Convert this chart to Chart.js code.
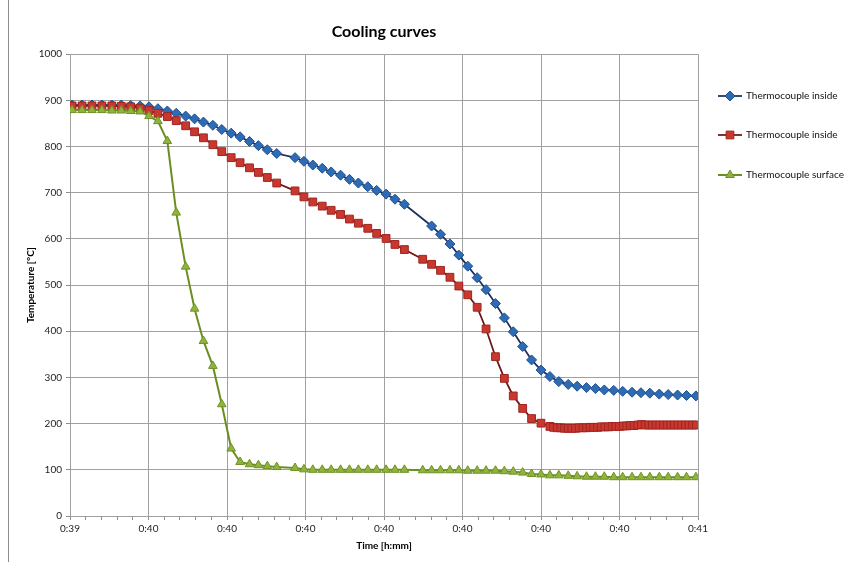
<!DOCTYPE html>
<html>
<head>
<meta charset="utf-8">
<title>Cooling curves</title>
<script src="https://cdn.jsdelivr.net/npm/chart.js@4.4.1/dist/chart.umd.min.js"></script>
<style>
  html, body { margin: 0; padding: 0; background: #fff; }
  canvas { display: block; }
</style>
</head>
<body>
<canvas id="cooling" width="862" height="562"></canvas>
<script>
// time of each sample, seconds after 0:39:00
var TIMES = [0.4, 2.3, 4.2, 6.1, 8.0, 9.8, 11.6, 13.4, 15.1, 16.8,
  18.6, 20.3, 22.1, 23.8, 25.5, 27.3, 29.0, 30.8, 32.5, 34.3,
  36.0, 37.7, 39.5, 41.2, 43.0, 44.7, 46.4, 48.2, 49.9, 51.7,
  53.4, 55.1, 56.9, 58.6, 60.4, 62.1, 63.9, 65.6, 67.4, 69.1,
  70.8, 72.6, 74.3, 76.0, 77.8, 79.5, 81.3, 83.0, 84.7, 86.5,
  88.2, 90.0, 91.7, 93.4, 95.2, 96.9, 98.7, 100.4, 102.1, 103.9,
  105.6, 107.4, 109.1, 110.8, 112.6, 114.3, 116.1, 117.8, 119.6];

// null = no reading at that time
var BLUE = [890, 890, 890, 890, 890, 890, 889, 888, 886, 882,
  877, 872, 866, 860, 853, 846, 837, 829, 821, 811,
  802, 793, 785, null, 776, 768, 760, 753, 745, 738,
  729, 721, 713, 705, 697, 686, 675, null, null, 628,
  610, 589, 565, 541, 516, 490, 460, 429, 399, 367,
  338, 316, 302, 291, 285, 281, 278, 276, 273, 272,
  270, 268, 267, 266, 264, 263, 262, 261, 260];

var RED = [888, 888, 888, 888, 888, 887, 886, 883, 878, 872,
  865, 856, 845, 832, 819, 804, 789, 776, 765, 754,
  744, 733, 721, null, 704, 691, 680, 671, 662, 653,
  643, 634, 623, 612, 601, 588, 577, null, 556, 545,
  532, 517, 498, 479, 452, 405, 345, 298, 260, 233,
  211, 201, 194];

// red logger runs faster after the quench
var RED_TAIL_TIMES = [92.4, 93.1, 93.8, 94.5, 95.2, 95.9, 96.6, 97.3, 98.0, 98.7,
  99.4, 100.1, 100.8, 101.5, 102.2, 102.9, 103.6, 104.3, 105.0, 105.7,
  106.4, 107.1, 107.8, 108.5, 109.2, 109.9, 110.6, 111.3, 112.0, 112.7,
  113.4, 114.1, 114.8, 115.5, 116.2, 116.9, 117.6, 118.3, 119.0, 119.7];
var RED_TAIL = [192, 191, 191, 190, 190, 190, 190, 191, 191, 191,
  192, 192, 192, 193, 193, 193, 194, 194, 194, 195,
  195, 196, 196, 197, 198, 197, 197, 197, 197, 197,
  197, 197, 197, 197, 197, 197, 197, 197, 197, 197];

var GREEN = [879, 879, 879, 879, 878, 878, 877, 876, 866, 855,
  812, 657, 540, 449, 379, 325, 242, 146, 117, 112,
  110, 108, 106, null, 104, 101, 100, 100, 100, 100,
  100, 100, 100, 100, 100, 100, 100, null, 99, 99,
  99, 99, 99, 98, 98, 98, 98, 97, 96, 94,
  91, 90, 88, 88, 87, 86, 85, 85, 85, 84,
  84, 84, 84, 84, 84, 84, 84, 84, 84];

var X_LABELS = ['0:39', '0:40', '0:40', '0:40', '0:40', '0:40', '0:40', '0:40', '0:41'];
var SERIES_NAMES = ['Thermocouple inside', 'Thermocouple inside', 'Thermocouple surface'];

function toPoints(times, values) {
  var pts = [];
  for (var i = 0; i < values.length; i++) {
    if (values[i] !== null) pts.push({ x: times[i], y: values[i] });
  }
  return pts;
}

var GRID = '#a0a0a0';
var FONT = 'Lato, "Open Sans", "Liberation Sans", sans-serif';
Chart.defaults.font.family = FONT;

function drawMarker(ctx, style, x, y, r) {
  ctx.beginPath();
  if (style === 'rectRot') {
    ctx.moveTo(x, y - r); ctx.lineTo(x + r, y); ctx.lineTo(x, y + r); ctx.lineTo(x - r, y);
  } else if (style === 'rect') {
    var s = r * Math.SQRT1_2;
    ctx.rect(x - s, y - s, 2 * s, 2 * s);
  } else {
    ctx.moveTo(x, y - r); ctx.lineTo(x + r * 0.866, y + r / 2); ctx.lineTo(x - r * 0.866, y + r / 2);
  }
  ctx.closePath();
  ctx.fill();
  ctx.stroke();
}

// legend on the right: short line with the marker in its middle
var sideLegend = {
  id: 'sideLegend',
  afterDraw: function(chart) {
    var ctx = chart.ctx;
    var rows = [96, 135, 175];
    chart.data.datasets.forEach(function(ds, i) {
      var y = rows[i];
      ctx.save();
      ctx.strokeStyle = ds.borderColor;
      ctx.lineWidth = ds.borderWidth;
      ctx.beginPath(); ctx.moveTo(718, y); ctx.lineTo(742, y); ctx.stroke();
      ctx.fillStyle = ds.pointBackgroundColor;
      ctx.strokeStyle = ds.pointBorderColor;
      ctx.lineWidth = 1;
      drawMarker(ctx, ds.pointStyle, 730, y, ds.pointRadius);
      ctx.fillStyle = '#111';
      ctx.font = '10px ' + FONT;
      ctx.textBaseline = 'middle';
      ctx.fillText(ds.label, 746, y);
      ctx.restore();
    });
  }
};

// outer frame edge seen on the left of the picture
var frameEdge = {
  id: 'frameEdge',
  beforeDraw: function(chart) {
    var ctx = chart.ctx;
    ctx.save();
    ctx.strokeStyle = '#8c8c8c';
    ctx.lineWidth = 1;
    ctx.beginPath(); ctx.moveTo(8.5, 0); ctx.lineTo(8.5, chart.height); ctx.stroke();
    ctx.restore();
  }
};

var cooling = new Chart(document.getElementById('cooling'), {
  type: 'line',
  data: {
    datasets: [{
      label: SERIES_NAMES[0],
      data: toPoints(TIMES, BLUE),
      borderColor: '#1c2f5e',
      borderWidth: 1.75,
      pointStyle: 'rectRot',
      pointRadius: 5,
      pointBackgroundColor: '#2d6cb5',
      pointBorderColor: '#1f4f8f',
      pointBorderWidth: 1,
      order: 3
    }, {
      label: SERIES_NAMES[1],
      data: toPoints(TIMES, RED).concat(toPoints(RED_TAIL_TIMES, RED_TAIL)),
      borderColor: '#6e1414',
      borderWidth: 1.75,
      pointStyle: 'rect',
      pointRadius: 5.5,
      pointBackgroundColor: '#c9382f',
      pointBorderColor: '#a02520',
      pointBorderWidth: 1,
      order: 2
    }, {
      label: SERIES_NAMES[2],
      data: toPoints(TIMES, GREEN),
      borderColor: '#6b8e23',
      borderWidth: 2,
      pointStyle: 'triangle',
      pointRadius: 5,
      pointBackgroundColor: '#8fb43c',
      pointBorderColor: '#6f9226',
      pointBorderWidth: 1,
      order: 1
    }]
  },
  options: {
    responsive: false,
    animation: false,
    layout: { padding: { left: 14, right: 164, top: 0, bottom: 6 } },
    plugins: {
      legend: { display: false },
      tooltip: { enabled: false },
      title: {
        display: true,
        text: 'Cooling curves',
        fullSize: false,
        color: '#000',
        font: { size: 16, weight: 'bold' },
        padding: { top: 22, bottom: 13 }
      }
    },
    scales: {
      x: {
        type: 'linear',
        min: 0,
        max: 120,
        afterFit: function(s) { s.height = 40; },
        ticks: {
          stepSize: 3,
          autoSkip: false,
          maxRotation: 0,
          padding: 3,
          color: '#222',
          font: { size: 10 },
          callback: function(v) { return v % 15 === 0 ? X_LABELS[v / 15] : ''; }
        },
        grid: {
          color: function(c) { return c.tick && c.tick.value % 15 === 0 ? GRID : 'rgba(0,0,0,0)'; },
          tickColor: '#8c8c8c',
          tickLength: 4
        },
        border: { color: GRID },
        title: {
          display: true,
          text: 'Time [h:mm]',
          color: '#000',
          font: { size: 10, weight: 'bold' },
          padding: { top: 0, bottom: 4 }
        }
      },
      y: {
        min: 0,
        max: 1000,
        afterFit: function(s) { s.width = 56; },
        ticks: {
          stepSize: 100,
          padding: 4,
          color: '#222',
          font: { size: 10 },
          callback: function(v) { return String(v); }
        },
        grid: { color: GRID, tickColor: '#8c8c8c', tickLength: 4 },
        border: { color: GRID },
        title: {
          display: true,
          text: 'Temperature [°C]',
          color: '#000',
          font: { size: 10, weight: 'bold' },
          padding: { top: 11, bottom: 0 }
        }
      }
    }
  },
  plugins: [frameEdge, sideLegend]
});
</script>
</body>
</html>
